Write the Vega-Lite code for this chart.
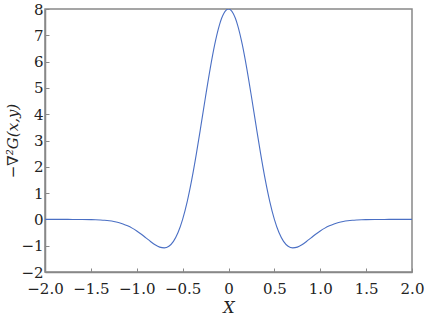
{
  "$schema": "https://vega.github.io/schema/vega-lite/v6.json",
  "width": 367,
  "height": 263,
  "autosize": {"type": "none"},
  "padding": {"left": 45, "top": 9, "right": 20, "bottom": 46},
  "background": "white",
  "config": {
    "view": {"stroke": "#888888", "strokeWidth": 1.5},
    "axis": {
      "labelFont": "DejaVu Serif",
      "labelFontSize": 15,
      "labelColor": "#222222",
      "titleFont": "DejaVu Serif",
      "titleFontSize": 15,
      "titleFontWeight": "normal",
      "titleColor": "#222222",
      "domainColor": "#888888",
      "domainWidth": 1.5,
      "tickColor": "#888888",
      "tickSize": -4,
      "grid": false
    }
  },
  "data": {
    "values": [
      {"x": -2.0, "y": 0}, {"x": -1.8, "y": 0}, {"x": -1.7, "y": -0.001}, {"x": -1.6, "y": -0.003},
      {"x": -1.5, "y": -0.008}, {"x": -1.45, "y": -0.013}, {"x": -1.4, "y": -0.022}, {"x": -1.35, "y": -0.034},
      {"x": -1.3, "y": -0.053}, {"x": -1.25, "y": -0.081}, {"x": -1.2, "y": -0.12}, {"x": -1.15, "y": -0.173},
      {"x": -1.1, "y": -0.243}, {"x": -1.05, "y": -0.332}, {"x": -1.0, "y": -0.44}, {"x": -0.95, "y": -0.565},
      {"x": -0.9, "y": -0.702}, {"x": -0.85, "y": -0.84}, {"x": -0.8, "y": -0.965}, {"x": -0.75, "y": -1.054},
      {"x": -0.7, "y": -1.082}, {"x": -0.65, "y": -1.019}, {"x": -0.6, "y": -0.834}, {"x": -0.55, "y": -0.501},
      {"x": -0.5, "y": 0}, {"x": -0.45, "y": 0.676}, {"x": -0.4, "y": 1.519}, {"x": -0.35, "y": 2.5},
      {"x": -0.3, "y": 3.572}, {"x": -0.25, "y": 4.673}, {"x": -0.2, "y": 5.726}, {"x": -0.15, "y": 6.653},
      {"x": -0.1, "y": 7.379}, {"x": -0.075, "y": 7.646}, {"x": -0.05, "y": 7.841}, {"x": -0.025, "y": 7.96},
      {"x": 0, "y": 8},
      {"x": 0.025, "y": 7.96}, {"x": 0.05, "y": 7.841}, {"x": 0.075, "y": 7.646}, {"x": 0.1, "y": 7.379},
      {"x": 0.15, "y": 6.653}, {"x": 0.2, "y": 5.726}, {"x": 0.25, "y": 4.673}, {"x": 0.3, "y": 3.572},
      {"x": 0.35, "y": 2.5}, {"x": 0.4, "y": 1.519}, {"x": 0.45, "y": 0.676}, {"x": 0.5, "y": 0},
      {"x": 0.55, "y": -0.501}, {"x": 0.6, "y": -0.834}, {"x": 0.65, "y": -1.019}, {"x": 0.7, "y": -1.082},
      {"x": 0.75, "y": -1.054}, {"x": 0.8, "y": -0.965}, {"x": 0.85, "y": -0.84}, {"x": 0.9, "y": -0.702},
      {"x": 0.95, "y": -0.565}, {"x": 1.0, "y": -0.44}, {"x": 1.05, "y": -0.332}, {"x": 1.1, "y": -0.243},
      {"x": 1.15, "y": -0.173}, {"x": 1.2, "y": -0.12}, {"x": 1.25, "y": -0.081}, {"x": 1.3, "y": -0.053},
      {"x": 1.35, "y": -0.034}, {"x": 1.4, "y": -0.022}, {"x": 1.45, "y": -0.013}, {"x": 1.5, "y": -0.008},
      {"x": 1.6, "y": -0.003}, {"x": 1.7, "y": -0.001}, {"x": 1.8, "y": 0}, {"x": 2.0, "y": 0}
    ]
  },
  "mark": {"type": "line", "color": "#4a6fc4", "strokeWidth": 1.1, "interpolate": "monotone", "clip": true},
  "encoding": {
    "x": {
      "field": "x",
      "type": "quantitative",
      "scale": {"domain": [-2, 2], "nice": false, "zero": false},
      "axis": {
        "title": "X",
        "titleFontStyle": "italic",
        "titleFontSize": 16,
        "titlePadding": 3,
        "values": [-2, -1.5, -1, -0.5, 0, 0.5, 1, 1.5, 2],
        "labelExpr": "datum.value == 0 ? '0' : format(datum.value, '.1f')",
        "labelPadding": 13,
        "labelFlush": false
      }
    },
    "y": {
      "field": "y",
      "type": "quantitative",
      "scale": {"domain": [-2, 8], "nice": false, "zero": false},
      "axis": {
        "title": "−∇²G(x,y)",
        "titleFontStyle": "italic",
        "titlePadding": 0,
        "values": [-2, -1, 0, 1, 2, 3, 4, 5, 6, 7, 8],
        "labelPadding": 6,
        "labelFlush": false
      }
    }
  }
}
